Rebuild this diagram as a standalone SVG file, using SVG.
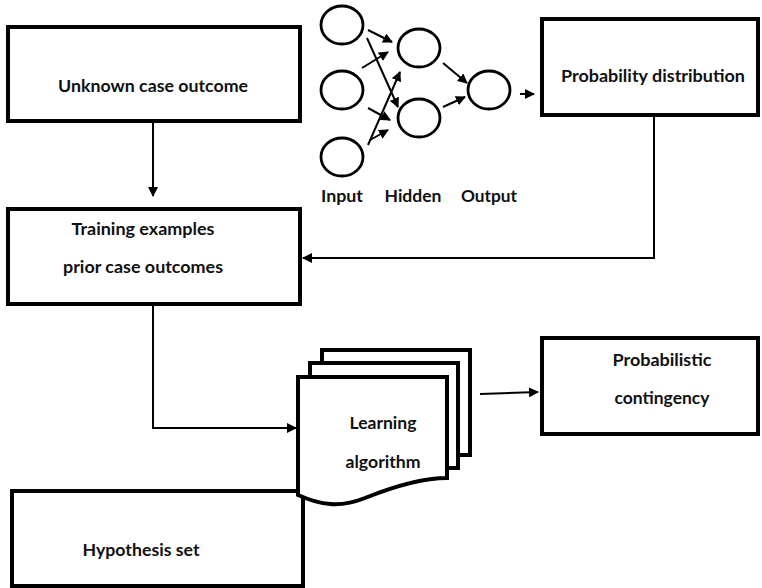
<svg xmlns="http://www.w3.org/2000/svg" width="762" height="588" viewBox="0 0 762 588">
  <defs>
    <marker id="arrow" viewBox="0 0 10 10" refX="9" refY="5" markerWidth="5" markerHeight="5" orient="auto" markerUnits="strokeWidth">
      <path d="M0,0 L10,5 L0,10 Z" fill="#000"/>
    </marker>
  </defs>
  <style>
    .box { fill: #fff; stroke: #000; stroke-width: 4; }
    .doc { fill: #fff; stroke: #000; stroke-width: 4; stroke-linejoin: miter; }
    .neuron { fill: none; stroke: #000; stroke-width: 2.8; }
    .wire { fill: none; stroke: #000; stroke-width: 2; marker-end: url(#arrow); }
    .lbl { font-family: Lato, "Liberation Sans", sans-serif; font-weight: bold; font-size: 17px; fill: #111; text-anchor: middle; }
  </style>
  <rect width="762" height="588" fill="#fff"/>

  <g id="unknown-case-outcome">
    <rect class="box" x="8" y="27" width="292" height="94"/>
    <text class="lbl" x="153" y="92" textLength="190" lengthAdjust="spacingAndGlyphs">Unknown case outcome</text>
  </g>

  <g id="training-examples">
    <rect class="box" x="8" y="209" width="292" height="95"/>
    <text class="lbl" x="143" y="235" textLength="143" lengthAdjust="spacingAndGlyphs">Training examples</text>
    <text class="lbl" x="143" y="273" textLength="160" lengthAdjust="spacingAndGlyphs">prior case outcomes</text>
  </g>

  <g id="hypothesis-set">
    <rect class="box" x="12" y="491" width="291" height="95"/>
    <text class="lbl" x="141" y="556" textLength="117" lengthAdjust="spacingAndGlyphs">Hypothesis set</text>
  </g>

  <g id="probability-distribution">
    <rect class="box" x="542" y="19" width="216" height="96"/>
    <text class="lbl" x="653" y="82" textLength="184" lengthAdjust="spacingAndGlyphs">Probability distribution</text>
  </g>

  <g id="probabilistic-contingency">
    <rect class="box" x="542" y="338" width="216" height="96"/>
    <text class="lbl" x="662" y="366" textLength="99" lengthAdjust="spacingAndGlyphs">Probabilistic</text>
    <text class="lbl" x="662" y="404" textLength="95" lengthAdjust="spacingAndGlyphs">contingency</text>
  </g>

  <g id="learning-algorithm">
    <path class="doc" d="M322,350 H470 V455 H458 V363 H322 Z"/>
    <path class="doc" d="M310,363 H458 V468 H447 V377 H310 Z"/>
    <path class="doc" d="M298,377 H447 V478 C420,478 390,488 365,498 C340,508 320,505 298,495 Z"/>
    <text class="lbl" x="383" y="429" textLength="67" lengthAdjust="spacingAndGlyphs">Learning</text>
    <text class="lbl" x="383" y="468" textLength="75" lengthAdjust="spacingAndGlyphs">algorithm</text>
  </g>

  <g id="neural-network">
    <ellipse class="neuron" cx="342" cy="25" rx="21" ry="19"/>
    <ellipse class="neuron" cx="342" cy="90" rx="21" ry="19"/>
    <ellipse class="neuron" cx="342" cy="157" rx="21" ry="19"/>
    <ellipse class="neuron" cx="419" cy="48" rx="21" ry="19"/>
    <ellipse class="neuron" cx="419" cy="118" rx="21" ry="19"/>
    <ellipse class="neuron" cx="489" cy="90" rx="21" ry="19"/>
    <text class="lbl" x="342" y="202" textLength="42" lengthAdjust="spacingAndGlyphs">Input</text>
    <text class="lbl" x="413" y="202" textLength="57" lengthAdjust="spacingAndGlyphs">Hidden</text>
    <text class="lbl" x="489" y="202" textLength="56" lengthAdjust="spacingAndGlyphs">Output</text>
  </g>

  <g id="connectors">
    <!-- neural network links -->
    <line class="wire" x1="368" y1="30" x2="392" y2="42"/>
    <line class="wire" x1="367" y1="38" x2="398" y2="107"/>
    <line class="wire" x1="362" y1="68" x2="388" y2="52"/>
    <line class="wire" x1="368" y1="108" x2="390" y2="120"/>
    <line class="wire" x1="368" y1="145" x2="400" y2="72"/>
    <line class="wire" x1="370" y1="140" x2="388" y2="130"/>
    <line class="wire" x1="443" y1="63" x2="467" y2="83"/>
    <line class="wire" x1="443" y1="107" x2="465" y2="97"/>
    <line class="wire" x1="520" y1="94" x2="534" y2="94"/>
    <!-- flow between boxes -->
    <line class="wire" x1="153" y1="123" x2="153" y2="196"/>
    <polyline class="wire" points="654,117 654,258 303,258"/>
    <polyline class="wire" points="153,306 153,428 296,428"/>
    <line class="wire" x1="480" y1="394" x2="538" y2="392"/>
  </g>
</svg>
